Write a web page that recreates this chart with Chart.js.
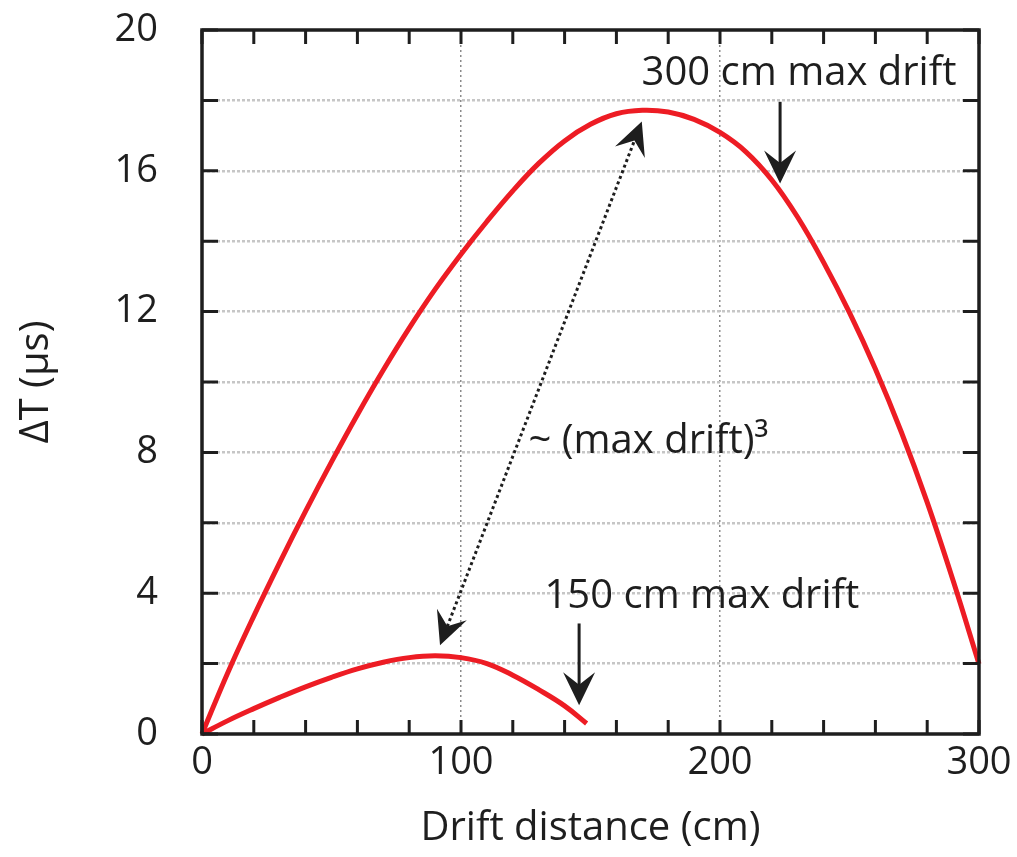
<!DOCTYPE html>
<html>
<head>
<meta charset="utf-8">
<script src="https://cdn.jsdelivr.net/npm/chart.js@4.4.0/dist/chart.umd.min.js"></script>
<style>
  html, body { margin: 0; padding: 0; background: #fff; }
</style>
</head>
<body>
<canvas id="driftChart" width="1017" height="857"></canvas>
<script>
// curve: 300 cm max drift (every 10 cm)
var drift300X = [0, 10, 20, 30, 40, 50, 60, 70, 80, 90, 100, 110, 120, 130, 140, 150, 160, 170, 180, 190, 200, 210, 220, 230, 240, 250, 260, 270, 280, 290, 300];
var drift300Y = [0, 1.75, 3.35, 4.87, 6.33, 7.73, 9.07, 10.34, 11.53, 12.63, 13.63, 14.56, 15.43, 16.21, 16.85, 17.32, 17.62, 17.72, 17.67, 17.46, 17.09, 16.54, 15.74, 14.68, 13.4, 11.97, 10.37, 8.58, 6.58, 4.36, 1.99];
// 150 cm max drift
var drift150X = [0, 10, 20, 30, 40, 50, 60, 70, 80, 90, 100, 110, 120, 130, 140, 148.5];
var drift150Y = [0, 0.38, 0.72, 1.04, 1.34, 1.61, 1.85, 2.04, 2.17, 2.22, 2.17, 2.0, 1.67, 1.26, 0.8, 0.3];

var xTickLabels = [0, 100, 200, 300];
var yTickLabels = [0, 4, 8, 12, 16, 20];
var xGridAt = [100, 200];

// annotations (in data units)
var noteText = ['300 cm max drift', '150 cm max drift', '~ (max drift)\u00B3'];
var noteSize = [40, 40, 40];
var noteX = [230.5, 193, 172.4];
var noteY = [18.44, 3.57, 7.99];
var arrowFrom = [[223.2, 17.96], [145.6, 3.14]];
var arrowTo = [[223.2, 15.64], [145.6, 0.82]];
var ratioEnds = [[91.9, 2.52], [169.8, 17.4]];

var RED = '#ed1c24';
var INK = '#1e1e1e';
var FONT = '"Open Sans", "Noto Sans", sans-serif';

function toPoints(xs, ys) {
  return xs.map(function(x, i) { return {x: x, y: ys[i]}; });
}

function head(ctx, x1, y1, x2, y2, len, half) {
  var ang = Math.atan2(y2 - y1, x2 - x1);
  ctx.save();
  ctx.translate(x2, y2);
  ctx.rotate(ang);
  ctx.beginPath();
  ctx.moveTo(0, 0);
  ctx.lineTo(-len, -half);
  ctx.lineTo(-len * 0.62, 0);
  ctx.lineTo(-len, half);
  ctx.closePath();
  ctx.fill();
  ctx.restore();
}

var frameAndNotes = {
  id: 'frameAndNotes',
  afterDatasetsDraw: function(chart) {
    var ctx = chart.ctx, a = chart.chartArea;
    var xs = chart.scales.x, ys = chart.scales.y;
    ctx.save();
    // inward tick marks on all four sides
    ctx.strokeStyle = INK;
    ctx.lineWidth = 3;
    ctx.beginPath();
    xs.ticks.forEach(function(t) {
      var px = xs.getPixelForValue(t.value);
      ctx.moveTo(px, a.bottom); ctx.lineTo(px, a.bottom - 14);
      ctx.moveTo(px, a.top); ctx.lineTo(px, a.top + 14);
    });
    ys.ticks.forEach(function(t) {
      var py = ys.getPixelForValue(t.value);
      ctx.moveTo(a.left, py); ctx.lineTo(a.left + 16, py);
      ctx.moveTo(a.right, py); ctx.lineTo(a.right - 16, py);
    });
    ctx.stroke();
    ctx.lineWidth = 3.5;
    ctx.strokeRect(a.left, a.top, a.right - a.left, a.bottom - a.top);

    // labels
    ctx.fillStyle = INK;
    ctx.textAlign = 'center';
    ctx.textBaseline = 'alphabetic';
    for (var i = 0; i < noteText.length; i++) {
      ctx.font = noteSize[i] + 'px ' + FONT;
      ctx.fillText(noteText[i], xs.getPixelForValue(noteX[i]), ys.getPixelForValue(noteY[i]));
    }

    // solid arrows
    ctx.lineWidth = 3;
    for (var j = 0; j < arrowFrom.length; j++) {
      var x1 = xs.getPixelForValue(arrowFrom[j][0]), y1 = ys.getPixelForValue(arrowFrom[j][1]);
      var x2 = xs.getPixelForValue(arrowTo[j][0]), y2 = ys.getPixelForValue(arrowTo[j][1]);
      ctx.beginPath();
      ctx.moveTo(x1, y1); ctx.lineTo(x2, y2 - 20);
      ctx.stroke();
      head(ctx, x1, y1, x2, y2, 33, 16);
    }

    // dotted double arrow
    var ax = xs.getPixelForValue(ratioEnds[0][0]), ay = ys.getPixelForValue(ratioEnds[0][1]);
    var bx = xs.getPixelForValue(ratioEnds[1][0]), by = ys.getPixelForValue(ratioEnds[1][1]);
    var d = Math.hypot(bx - ax, by - ay), ux = (bx - ax) / d, uy = (by - ay) / d;
    ctx.setLineDash([3, 3]);
    ctx.lineWidth = 3;
    ctx.beginPath();
    ctx.moveTo(ax + ux * 20, ay + uy * 20);
    ctx.lineTo(bx - ux * 20, by - uy * 20);
    ctx.stroke();
    ctx.setLineDash([]);
    head(ctx, bx, by, ax, ay, 33, 16);
    head(ctx, ax, ay, bx, by, 33, 16);
    ctx.restore();
  }
};

var ctx = document.getElementById('driftChart').getContext('2d');
var driftChart = new Chart(ctx, {
  type: 'line',
  data: {
    datasets: [
      {
        label: '300 cm max drift',
        data: toPoints(drift300X, drift300Y),
        borderColor: RED,
        borderWidth: 5,
        pointRadius: 0,
        tension: 0.4,
        fill: false,
        clip: false
      },
      {
        label: '150 cm max drift',
        data: toPoints(drift150X, drift150Y),
        borderColor: RED,
        borderWidth: 5,
        pointRadius: 0,
        tension: 0.4,
        fill: false,
        clip: false
      }
    ]
  },
  options: {
    responsive: false,
    animation: false,
    layout: { padding: { top: 30, right: 38, left: 0, bottom: 0 } },
    plugins: { legend: { display: false }, tooltip: { enabled: false } },
    scales: {
      x: {
        type: 'linear',
        min: 0,
        max: 300,
        afterFit: function(s) { s.height = 123; },
        border: { display: false, dash: [2, 3] },
        grid: {
          drawTicks: true,
          tickLength: 6,
          tickColor: 'rgba(0,0,0,0)',
          lineWidth: 1.5,
          color: function(c) {
            return xGridAt.indexOf(c.tick.value) >= 0 ? '#8a8a8a' : 'rgba(0,0,0,0)';
          }
        },
        ticks: {
          stepSize: 20,
          autoSkip: false,
          maxRotation: 0,
          padding: 0,
          color: INK,
          font: { family: FONT, size: 38 },
          callback: function(v) { return xTickLabels.indexOf(v) >= 0 ? String(v) : ''; }
        },
        title: {
          display: true,
          text: 'Drift distance (cm)',
          color: INK,
          font: { family: FONT, size: 40 },
          padding: { top: 0, bottom: 4 }
        }
      },
      y: {
        type: 'linear',
        min: 0,
        max: 20,
        afterFit: function(s) { s.width = 202; },
        border: { display: false, dash: [3, 2] },
        grid: {
          drawTicks: true,
          tickLength: 44,
          tickColor: 'rgba(0,0,0,0)',
          lineWidth: 2.5,
          color: function(c) {
            var v = c.tick.value;
            return (v == 0 || v == 20) ? 'rgba(0,0,0,0)' : '#c6c6c6';
          }
        },
        ticks: {
          stepSize: 2,
          autoSkip: false,
          padding: 0,
          color: INK,
          font: { family: FONT, size: 38 },
          callback: function(v) { return yTickLabels.indexOf(v) >= 0 ? String(v) : ''; }
        },
        title: {
          display: true,
          text: '\u0394T (\u03BCs)',
          color: INK,
          font: { family: FONT, size: 40 },
          padding: { top: 13, bottom: 0 }
        }
      }
    }
  },
  plugins: [frameAndNotes]
});
</script>
</body>
</html>
